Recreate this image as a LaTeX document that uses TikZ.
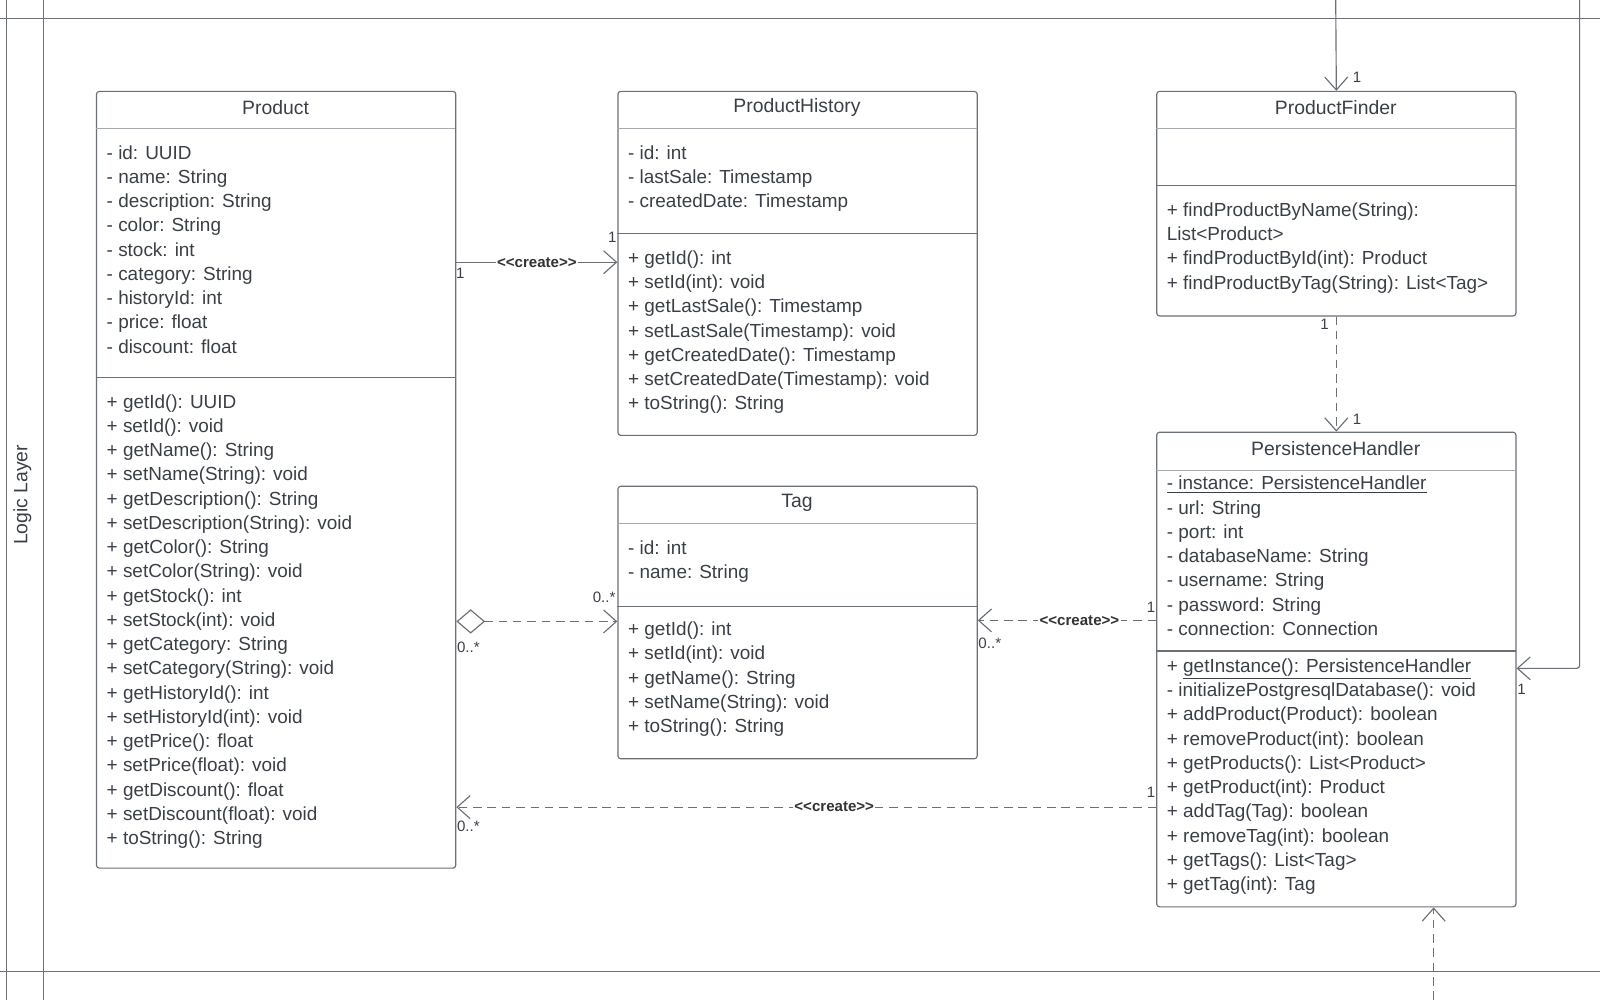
\documentclass[tikz,border=0pt]{standalone}
\usepackage{fontspec}
\setmainfont{Liberation Sans}
\usetikzlibrary{arrows.meta,shapes.geometric}
\definecolor{umlline}{HTML}{6B6F76}
\definecolor{umltext}{HTML}{3A3F47}
\begin{document}
\begin{tikzpicture}[x=0.025cm, y=-0.025cm, line width=0.8pt, draw=umlline,
    cls/.style={draw=umlline, rounded corners=2pt, anchor=north west, inner sep=0pt, minimum width=8.8cm},
    title/.style={font=\fontsize{13.5}{16}\selectfont, text=umltext},
    members/.style={anchor=north west, inner sep=0pt, align=left, text=umltext, font=\fontsize{13.2}{16.9}\selectfont},
    mult/.style={font=\fontsize{10.5}{12}\selectfont, text=umltext, inner sep=0pt},
    stereo/.style={font=\bfseries\fontsize{10.5}{12}\selectfont, text=black!80, fill=white, inner sep=1pt},
    open/.style={-{Straight Barb[length=9pt, width=16pt, line width=0.8pt]}},
    dep/.style={open, dash pattern=on 6pt off 4pt}]
  \useasboundingbox (0,0) rectangle (1568,980);
  % Frame of the layer
  \draw (0,18) -- (1568,18);
  \draw (0,952) -- (1568,952);
  \draw (6,0) -- (6,980);
  \draw (43,0) -- (43,980);
  \node[rotate=90, font=\fontsize{13.5}{16}\selectfont, text=umltext] (layer) at (22,485) {Logic Layer};

  % Classes
  \node[cls, minimum height=19.025cm] (product) at (94,89) {};
  \node[cls, minimum height=8.425cm] (history) at (605,89) {};
  \node[cls, minimum height=5.5cm] (finder) at (1133,89) {};
  \node[cls, minimum height=6.675cm] (tag) at (605,476) {};
  \node[cls, minimum height=11.625cm] (handler) at (1133,423) {};

  \node[title] at (270,105) {Product};
  \node[title] at (781,105) {ProductHistory};
  \node[title] at (1309,105) {ProductFinder};
  \node[title] at (781,493) {Tag};
  \node[title] at (1309,440) {PersistenceHandler};

  \draw[umlline!60, line width=0.5pt] (94,126) -- (446,126) (605,126) -- (957,126)
    (1133,126) -- (1486,126) (605,513) -- (957,513) (1133,461) -- (1486,461);
  \draw (94,370) -- (446,370) (605,229) -- (957,229) (1133,182) -- (1486,182)
    (605,594) -- (957,594) (1133,638) -- (1486,638);

  % Members
  \node[members] at (104,142) {- id: UUID\\- name: String\\- description: String\\- color: String\\- stock: int\\- category: String\\- historyId: int\\- price: float\\- discount: float};
  \node[members] at (104,386) {+ getId(): UUID\\+ setId(): void\\+ getName(): String\\+ setName(String): void\\+ getDescription(): String\\+ setDescription(String): void\\+ getColor(): String\\+ setColor(String): void\\+ getStock(): int\\+ setStock(int): void\\+ getCategory: String\\+ setCategory(String): void\\+ getHistoryId(): int\\+ setHistoryId(int): void\\+ getPrice(): float\\+ setPrice(float): void\\+ getDiscount(): float\\+ setDiscount(float): void\\+ toString(): String};
  \node[members] at (615,142) {- id: int\\- lastSale: Timestamp\\- createdDate: Timestamp};
  \node[members] at (615,245) {+ getId(): int\\+ setId(int): void\\+ getLastSale(): Timestamp\\+ setLastSale(Timestamp): void\\+ getCreatedDate(): Timestamp\\+ setCreatedDate(Timestamp): void\\+ toString(): String};
  \node[members] at (1143,198) {+ findProductByName(String):\\List<Product>\\+ findProductById(int): Product\\+ findProductByTag(String): List<Tag>};
  \node[members] at (615,529) {- id: int\\- name: String};
  \node[members] at (615,609) {+ getId(): int\\+ setId(int): void\\+ getName(): String\\+ setName(String): void\\+ toString(): String};
  \node[members] at (1143,466) {\underline{- instance: PersistenceHandler}\\- url: String\\- port: int\\- databaseName: String\\- username: String\\- password: String\\- connection: Connection};
  \node[members] at (1143,645) {+ \underline{getInstance(): PersistenceHandler}\\- initializePostgresqlDatabase(): void\\+ addProduct(Product): boolean\\+ removeProduct(int): boolean\\+ getProducts(): List<Product>\\+ getProduct(int): Product\\+ addTag(Tag): boolean\\+ removeTag(int): boolean\\+ getTags(): List<Tag>\\+ getTag(int): Tag};

  % Connectors
  \coordinate (topin) at (1309,0);
  \coordinate (rightin) at (1548,0);
  \coordinate (bottomin) at (1405,980);
  \draw[open] (topin) -- (finder.north);
  \node[mult] at (1330,76) {1};
  \draw[open, rounded corners=2pt] (rightin) -- (1548,655) -- (handler.east |- 0,655);
  \node[mult] at (1491,676) {1};
  \draw[dep] (bottomin) -- (handler.south -| bottomin);

  \draw[open] (product.east |- 0,257) -- node[stereo] {<{}<create>{}>} (history.west |- 0,257);
  \node[mult] at (451,268) {1};
  \node[mult] at (600,233) {1};

  \draw[dep, {Diamond[open, length=20pt, width=17pt, line width=0.8pt, fill=white]}-{Straight Barb[length=9pt, width=16pt, line width=0.8pt]}]
    (product.east |- 0,609) -- (tag.west |- 0,609);
  \node[mult] at (459,634) {0..*};
  \node[mult] at (592,585) {0..*};

  \draw[dep] (handler.west |- 0,608) -- node[stereo, pos=0.43] {<{}<create>{}>} (tag.east |- 0,608);
  \node[mult] at (1128,595) {1};
  \node[mult] at (970,630) {0..*};

  \draw[dep] (handler.west |- 0,791) -- node[stereo, pos=0.46] {<{}<create>{}>} (product.east |- 0,791);
  \node[mult] at (1128,776) {1};
  \node[mult] at (459,810) {0..*};

  \draw[dep] (finder.south) -- (handler.north);
  \node[mult] at (1298,318) {1};
  \node[mult] at (1330,411) {1};
\end{tikzpicture}
\end{document}
